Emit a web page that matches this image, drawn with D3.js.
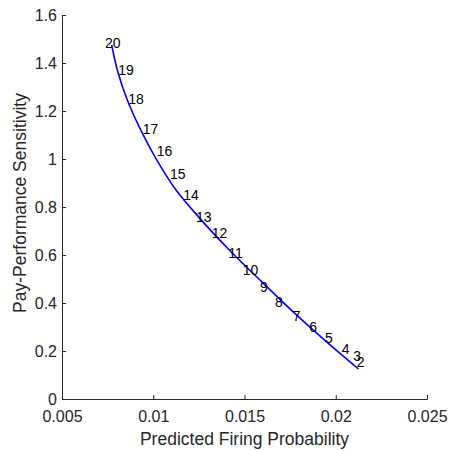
<!DOCTYPE html>
<html><head><meta charset="utf-8">
<script src="https://cdn.jsdelivr.net/npm/d3@7"></script>
<style>body{margin:0;background:#fff;} text{font-family:"Liberation Sans",Arial,sans-serif;}</style>
</head><body>
<svg id="c" width="449" height="451"></svg>
<script>
// Curve
const curveX = [0.007723, 0.008030, 0.008578, 0.009312, 0.010189, 0.011247, 0.012468, 0.014167, 0.016030, 0.017948, 0.019592, 0.021247];
const curveY = [1.475, 1.371, 1.246, 1.121, 0.996, 0.871, 0.760, 0.621, 0.482, 0.343, 0.232, 0.125];
// Point labels
const labelText = ["20","19","18","17","16","15","14","13","12","11","10","9","8","7","6","5","4","3","2"];
const labelX = [0.007356, 0.008086, 0.008634, 0.009419, 0.010189, 0.010918, 0.011646, 0.012342, 0.013203, 0.014115, 0.014904, 0.015849, 0.016671, 0.017641, 0.018551, 0.019411, 0.020326, 0.020962, 0.021148];
const labelY = [1.483, 1.371, 1.249, 1.127, 1.035, 0.9375, 0.85, 0.758, 0.6931, 0.6083, 0.5375, 0.4654, 0.4054, 0.3471, 0.2986, 0.2529, 0.2083, 0.1804, 0.1529];
const xTicks = [0.005, 0.01, 0.015, 0.02, 0.025];
const yTicks = [0, 0.2, 0.4, 0.6, 0.8, 1, 1.2, 1.4, 1.6];

const svg = d3.select("#c");
const L = 62, R = 427, T = 15, B = 399;
const x = d3.scaleLinear().domain([0.005, 0.025]).range([L, R]);
const y = d3.scaleLinear().domain([0, 1.6]).range([B, T]);
const axCol = "#262626";

const xa = svg.append("g").attr("transform", `translate(0,${B})`)
  .call(d3.axisBottom(x).tickValues(xTicks).tickSize(-4).tickPadding(12).tickFormat(d => String(+d.toFixed(3))));
const ya = svg.append("g").attr("transform", `translate(${L},0)`)
  .call(d3.axisLeft(y).tickValues(yTicks).tickSize(-4).tickPadding(5).tickFormat(d => String(+d.toFixed(1))));
[xa, ya].forEach(a => {
  a.select(".domain").attr("stroke", axCol).attr("stroke-width", 1);
  a.selectAll(".tick line").attr("stroke", axCol);
  a.selectAll(".tick text").attr("fill", axCol).style("font-size", "16px").style("font-family", "'Liberation Sans', Arial, sans-serif");
});

const pts = curveX.map((v, i) => [v, curveY[i]]);
svg.append("path").datum(pts)
  .attr("d", d3.line().x(d => x(d[0])).y(d => y(d[1])).curve(d3.curveMonotoneY))
  .attr("fill", "none").attr("stroke", "#0000ff").attr("stroke-width", 1.6);

svg.append("g").selectAll("text").data(labelText).join("text")
  .attr("x", (d, i) => x(labelX[i])).attr("y", (d, i) => y(labelY[i]))
  .attr("dominant-baseline", "central").attr("fill", "#000")
  .style("font-size", "14px").text(d => d);

svg.append("text").attr("x", (L + R) / 2).attr("y", 445).attr("text-anchor", "middle")
  .attr("fill", axCol).style("font-size", "17.5px").text("Predicted Firing Probability");
svg.append("text").attr("transform", `translate(26,203) rotate(-90)`).attr("text-anchor", "middle")
  .attr("fill", axCol).style("font-size", "17.5px").text("Pay-Performance Sensitivity");
</script>
</body></html>
